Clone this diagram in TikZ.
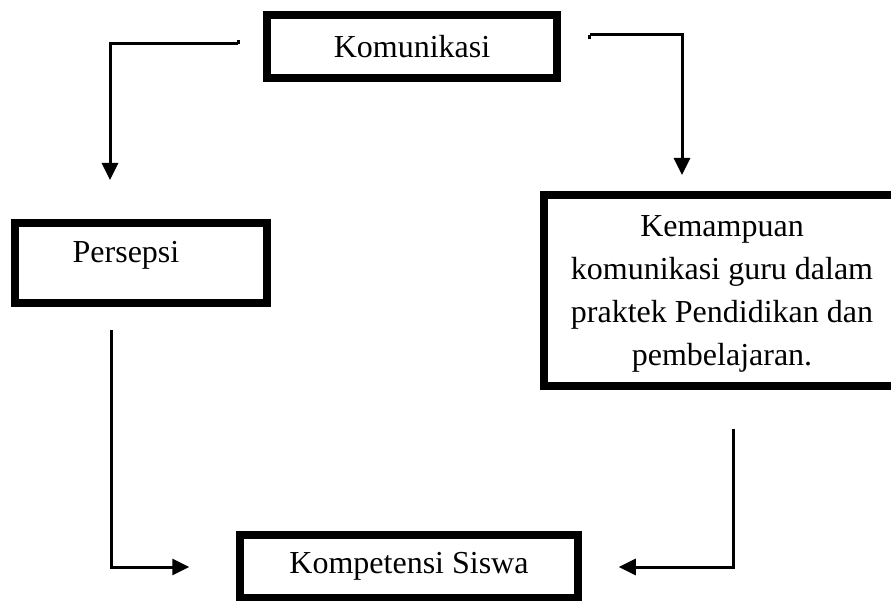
\documentclass[tikz,border=0pt]{standalone}
\usepackage{fontspec}
\setmainfont{Liberation Serif}
\usetikzlibrary{arrows.meta,calc}
\begin{document}
\begin{tikzpicture}[x=1pt,y=-1pt,
  box/.style={draw=black, line width=7.5pt, inner sep=0pt, fill=white,
    font=\fontsize{32}{43}\selectfont, align=center},
  txt/.style={inner sep=0pt, font=\fontsize{32}{43}\selectfont},
  conn/.style={draw=black, line width=3pt, -{Triangle[length=17pt,width=16pt]}}]
\useasboundingbox (0,0) rectangle (891,601);
\clip (0,0) rectangle (891,601);
% boxes
\node[box, minimum width=290pt, minimum height=63pt] (kom) at (412,46.5) {Komunikasi};
\node[box, minimum width=252pt, minimum height=80pt] (per) at (141,263) {};
\node[txt, anchor=base] (pertxt) at (126,263) {Persepsi};
\node[box, minimum width=356pt, minimum height=191pt] (kem) at (722,290.5) {};
\node[txt, align=center] (kemtxt) at (722,294)
  {Kemampuan\\komunikasi guru dalam\\praktek Pendidikan dan\\pembelajaran.};
\node[box, minimum width=338pt, minimum height=63pt] (ks) at (409,566.5) {Kompetensi Siswa};
% free ends
\coordinate (a1) at ($(kom.west)+(-25,-2.5)$);
\coordinate (a1e) at (110,180);
\coordinate (a2) at ($(kom.east)+(29,-11.5)$);
\coordinate (a2e) at (682,175);
\coordinate (a3) at (111,330);
\coordinate (a3e) at ($(ks.west)+(-47,0.5)$);
\coordinate (a4) at (733,429);
\coordinate (a4e) at ($(ks.east)+(37,0.5)$);
% connectors
\draw[line width=3pt] (a1) ++(0,-3.5) -- (a1);
\draw[conn] (a1) -| (a1e);
\draw[line width=3pt] (a2) ++(0,4.5) -- (a2);
\draw[conn] (a2) -| (a2e);
\draw[conn] (a3) |- (a3e);
\draw[conn] (a4) |- (a4e);
\end{tikzpicture}
\end{document}
